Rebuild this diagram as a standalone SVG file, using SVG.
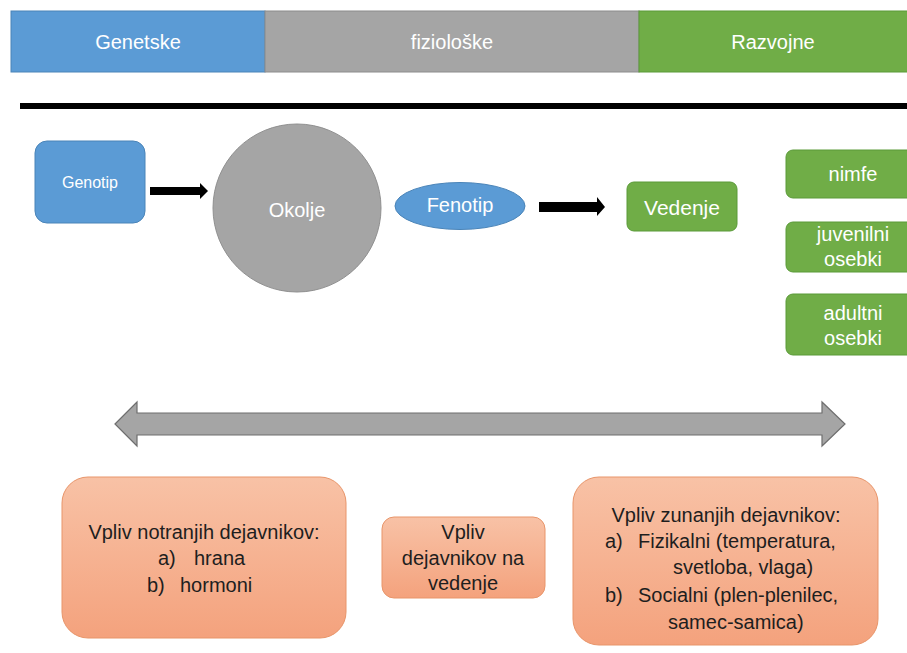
<svg xmlns="http://www.w3.org/2000/svg" width="907" height="653" viewBox="0 0 907 653">
<defs>
<style>
.t{font-family:"Liberation Sans",Arial,sans-serif;text-anchor:middle;dominant-baseline:central;font-size:20px}
.s{text-anchor:start}
.w{fill:#ffffff}
.d{fill:#1e1e1e}
.blue{fill:#5B9BD5}
.gray{fill:#A5A5A5}
.green{fill:#70AD47;stroke:#5a9a38;stroke-width:1}
.sal{fill:url(#sg);stroke:#e8956a;stroke-width:1}
</style>
<linearGradient id="sg" x1="0" y1="0" x2="0" y2="1">
<stop offset="0" stop-color="#F8C2A6"/>
<stop offset="1" stop-color="#F4A27D"/>
</linearGradient>
</defs>
<rect width="907" height="653" fill="#ffffff"/>

<g id="header">
<rect x="11" y="11" width="254" height="61" class="blue" stroke="#4a84b8" stroke-width="1"/>
<rect x="265" y="11" width="374" height="61" class="gray" stroke="#8c8c8c" stroke-width="1"/>
<rect x="639" y="11" width="270" height="61" class="green"/>
<text x="138" y="42" class="t w">Genetske</text>
<text x="452" y="42" class="t w">fiziološke</text>
<text x="773" y="42" class="t w">Razvojne</text>
</g>

<rect x="20" y="103" width="890" height="6" fill="#000000"/>

<g id="genotip">
<rect x="35" y="141" width="110" height="82" rx="12" class="blue" stroke="#4a84b8" stroke-width="1"/>
<text x="90" y="182" class="t w" style="font-size:16px">Genotip</text>
</g>

<g id="okolje">
<circle cx="297" cy="208" r="84" class="gray" stroke="#909090" stroke-width="1"/>
<text x="297" y="210" class="t w">Okolje</text>
</g>

<g id="fenotip">
<ellipse cx="460" cy="206" rx="65" ry="23.5" class="blue" stroke="#4a84b8" stroke-width="1"/>
<text x="460" y="205" class="t w">Fenotip</text>
</g>

<g id="vedenje">
<rect x="627" y="182" width="110" height="49" rx="7" class="green"/>
<text x="682" y="207" class="t w" style="font-size:21px">Vedenje</text>
</g>

<g id="nimfe">
<rect x="786" y="150" width="135" height="48" rx="7" class="green"/>
<text x="853" y="174" class="t w">nimfe</text>
</g>

<g id="juvenilni">
<rect x="786" y="222" width="135" height="50" rx="7" class="green"/>
<text x="853" y="234" class="t w">juvenilni</text>
<text x="853" y="259" class="t w">osebki</text>
</g>

<g id="adultni">
<rect x="786" y="294" width="135" height="61" rx="7" class="green"/>
<text x="853" y="313" class="t w">adultni</text>
<text x="853" y="338" class="t w">osebki</text>
</g>

<g id="connectors">
<polygon points="150,187 200,187 200,183 208,191 200,199 200,195 150,195" fill="#000000"/>
<polygon points="539,202 597,202 597,197 605,207 597,216 597,212 539,212" fill="#000000"/>
</g>

<g id="double-arrow">
<polygon points="115,424 137,402 137,413 822,413 822,402 845,424 822,446 822,435 137,435 137,446" fill="#A5A5A5" stroke="#6e6e6e" stroke-width="1.2"/>
</g>

<g id="notranji">
<rect x="62" y="477" width="284" height="161" rx="26" class="sal"/>
<text x="204" y="532" class="t d">Vpliv notranjih dejavnikov:</text>
<text x="158" y="558" class="t d s">a)</text>
<text x="194" y="558" class="t d s">hrana</text>
<text x="147" y="585" class="t d s">b)</text>
<text x="180" y="585" class="t d s">hormoni</text>
</g>

<g id="vpliv">
<rect x="382" y="517" width="163" height="81" rx="12" class="sal"/>
<text x="463" y="532" class="t d">Vpliv</text>
<text x="463" y="558" class="t d">dejavnikov na</text>
<text x="463" y="583" class="t d">vedenje</text>
</g>

<g id="zunanji">
<rect x="573" y="477" width="305" height="168" rx="26" class="sal"/>
<text x="726" y="515" class="t d">Vpliv zunanjih dejavnikov:</text>
<text x="605" y="541" class="t d s">a)</text>
<text x="638" y="541" class="t d s">Fizikalni (temperatura,</text>
<text x="673" y="567" class="t d s">svetloba, vlaga)</text>
<text x="605" y="595" class="t d s">b)</text>
<text x="638" y="595" class="t d s">Socialni (plen-plenilec,</text>
<text x="668" y="622" class="t d s">samec-samica)</text>
</g>
</svg>
